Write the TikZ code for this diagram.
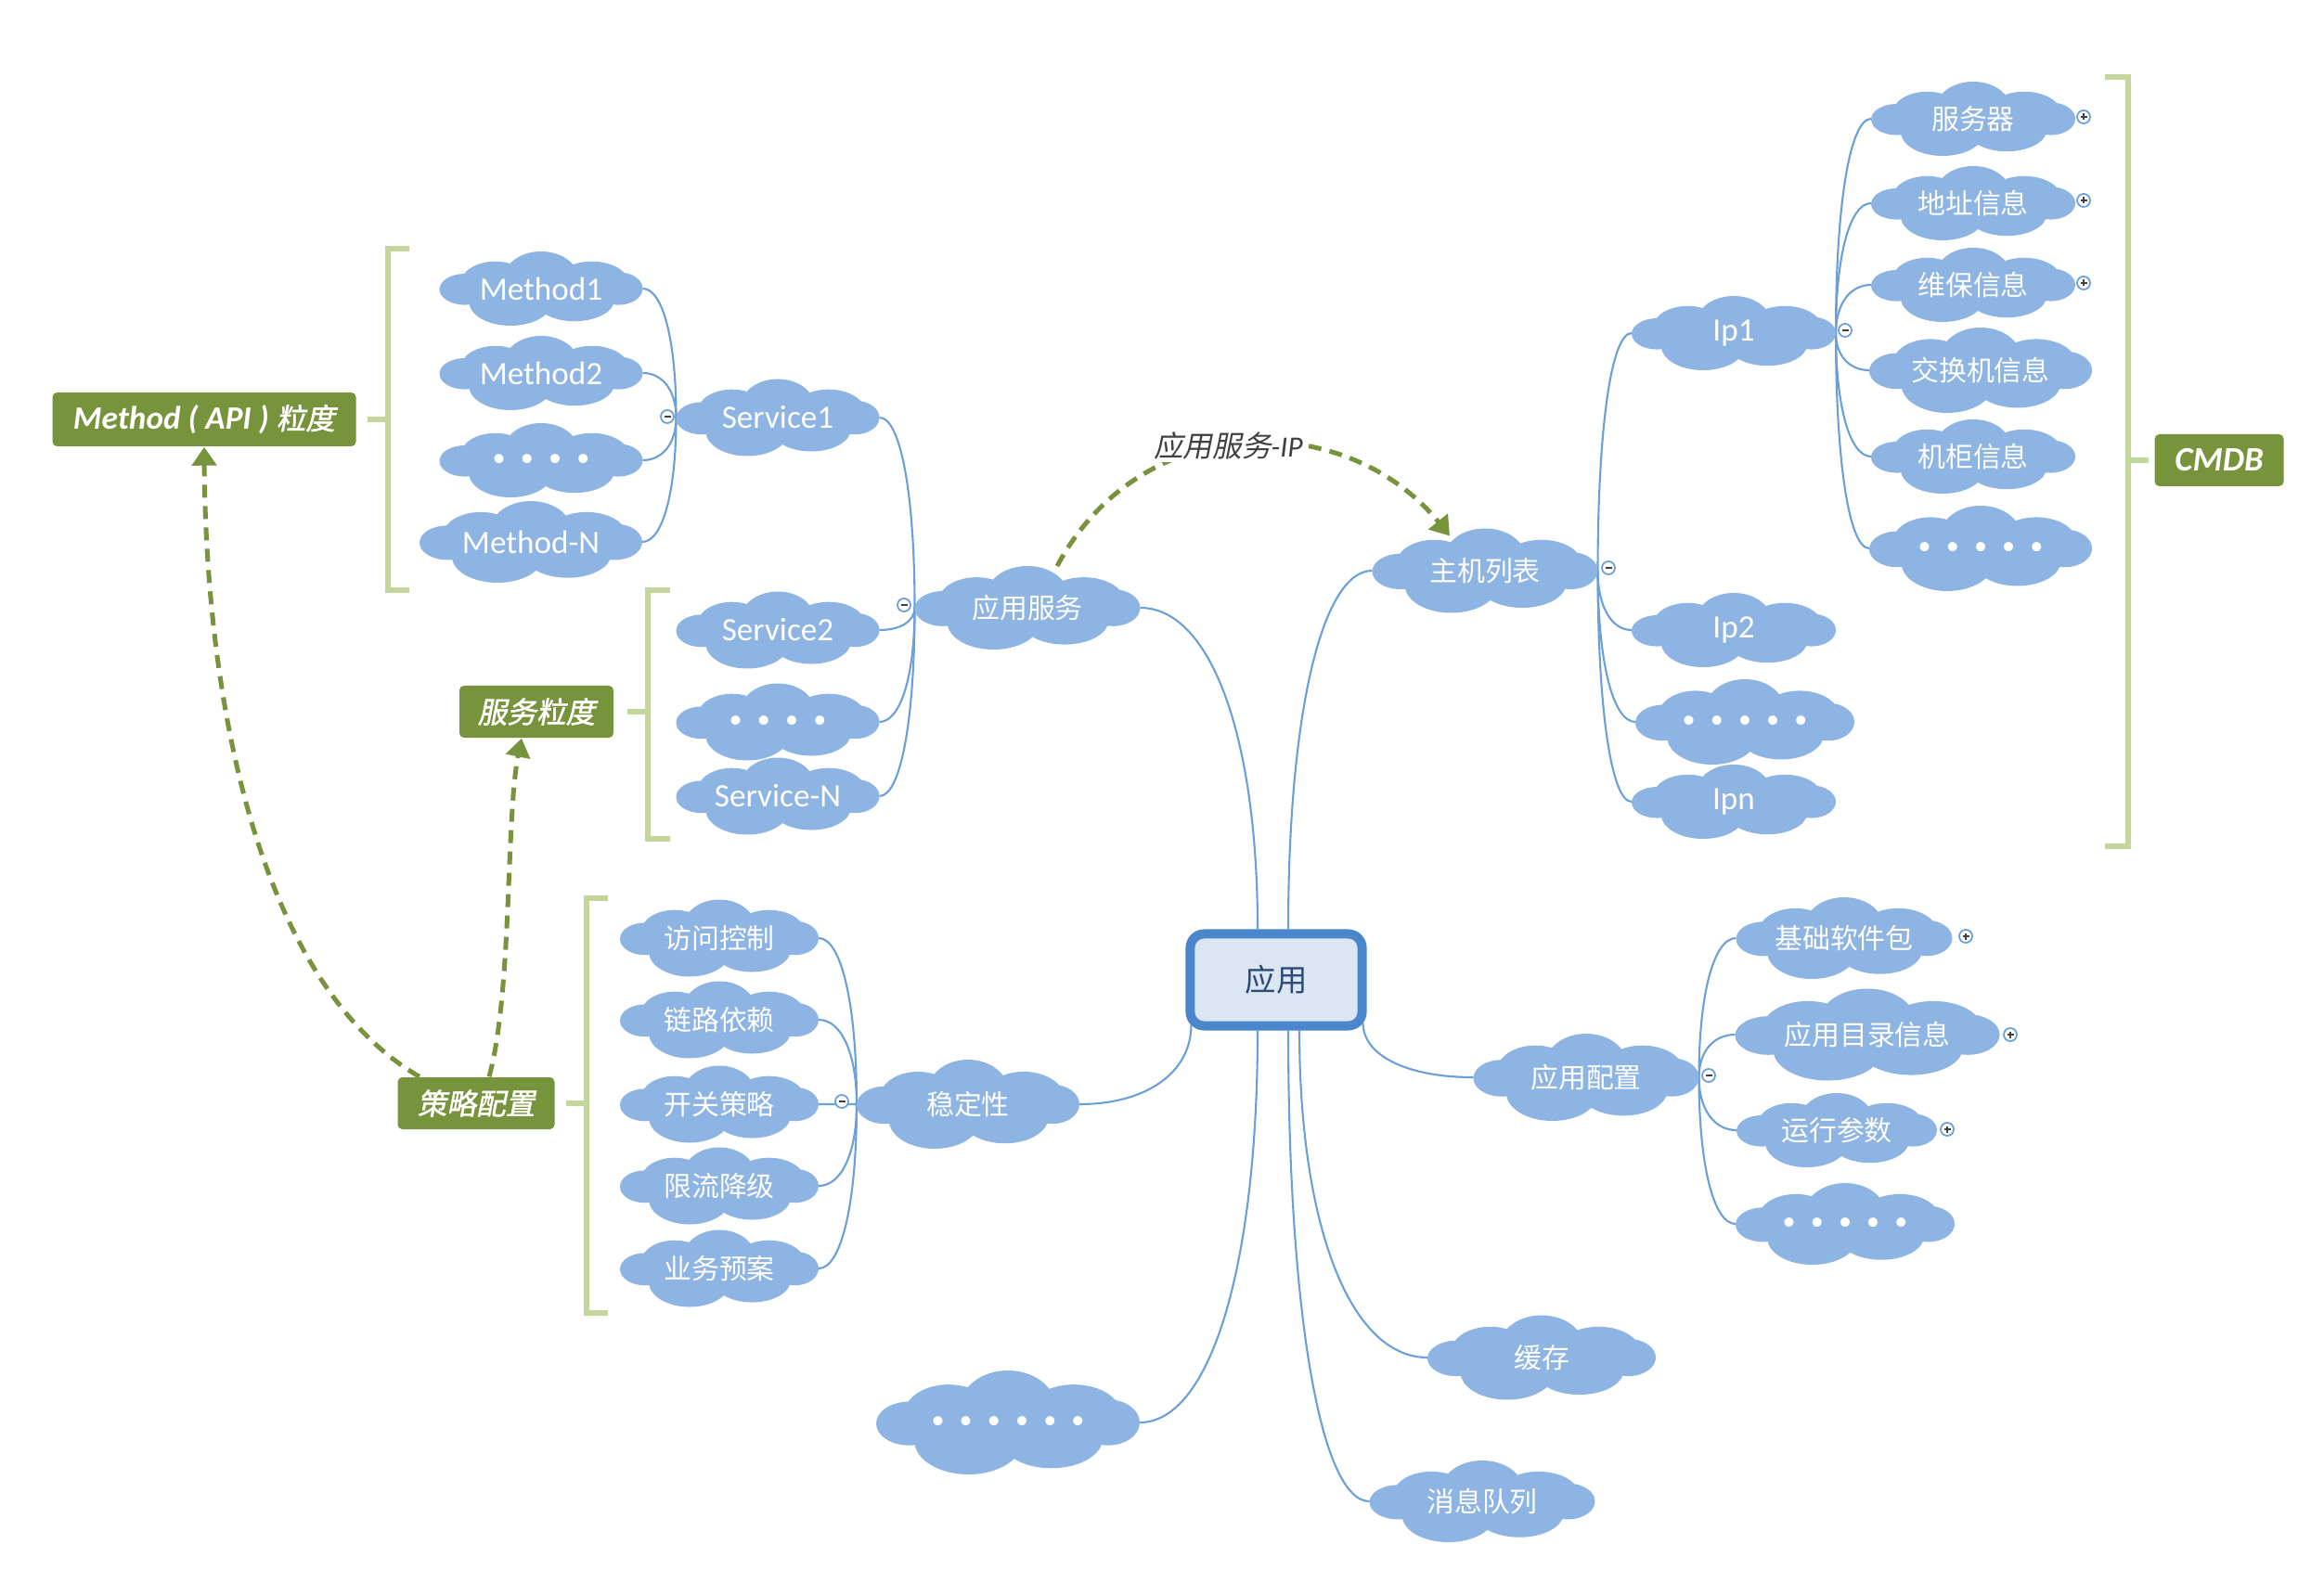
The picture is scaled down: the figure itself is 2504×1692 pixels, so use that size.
\documentclass[tikz,border=0pt]{standalone}
\usepackage{fontspec}
\setmainfont{Carlito}
\newfontfamily\cjk{Noto Sans CJK SC}
\newfontfamily\cjksl[FakeSlant=0.2]{Noto Sans CJK SC}
\newfontfamily\cjktag[FakeSlant=0.2,FakeBold=1.5]{Noto Sans CJK SC}
\usetikzlibrary{arrows.meta,calc}

\definecolor{cloudblue}{HTML}{8DB4E2}
\definecolor{linkblue}{HTML}{6A9FD8}
\definecolor{taggreen}{HTML}{77933C}
\definecolor{bracketgreen}{HTML}{C3D69B}
\definecolor{boxblue}{HTML}{4A86CC}
\definecolor{boxfill}{HTML}{DCE6F2}
\definecolor{boxtext}{HTML}{2C4A74}
\definecolor{labelgrey}{HTML}{404040}

\pgfdeclarelayer{background}
\pgfdeclarelayer{cloudlayer}
\pgfsetlayers{background,cloudlayer,main}

% curved mind-map branch: leaves the parent vertically, enters the child horizontally
\newcommand\mmlink[2]{\draw[conn] (#1) .. controls ($(#1)!0.6!(#1|-#2)$) and ($(#2)!0.6!(#2-|#1)$) .. (#2);}
% one spaced bullet of an ellipsis row
\newcommand\bul{\kern2.3pt•\kern2.3pt}
% cloud topic: [options]{name}{x}{y}{width}{height}{text}
% the cloud is a union of lobes given as u/v/rx/ry in half-size units (v upwards)
\newcommand\cloudnode[7][]{%
  \node[cl={#5}{#6}, #1] (#2) at (#3,#4) {#7};
  \begin{pgfonlayer}{cloudlayer}
    \fill[cloudblue] foreach \u/\v/\rx/\ry in {0/0/0.78/0.62, 0/0.30/0.36/0.70,
        -0.45/0.15/0.34/0.58, 0.50/0.15/0.36/0.58, -0.75/-0.02/0.25/0.42,
        0.76/0/0.24/0.44, -0.30/-0.35/0.41/0.65, 0.33/-0.30/0.39/0.58}
      {({#3+\u*#5/2},{#4-\v*#6/2}) ellipse [x radius={\rx*#5/2}, y radius={\ry*#6/2}]};
  \end{pgfonlayer}}

\begin{document}
\begin{tikzpicture}[x=0.01cm, y=-0.01cm,
  cl/.style 2 args={rectangle, draw=none, inner sep=0pt, outer sep=0pt,
    minimum width={#1*0.01cm}, minimum height={#2*0.01cm},
    text=white, font=\fontsize{8.5}{10}\selectfont\cjk},
  lat/.style={font=\fontsize{10}{12}\selectfont\rmfamily},
  dots/.style={font=\fontsize{8}{10}\selectfont\rmfamily},
  tag/.style 2 args={rectangle, rounded corners=0.05cm, fill=taggreen, text=white, inner sep=0pt,
    minimum width={#1*0.01cm}, minimum height={#2*0.01cm}},
  bracket/.style={draw=bracketgreen, line width=0.06cm},
  conn/.style={draw=linkblue, line width=0.6pt},
  dasharrow/.style={draw=taggreen, line width=0.05cm, dash pattern=on 0.14cm off 0.09cm,
    -{Triangle[length=0.2cm,width=0.26cm]}},
  collapse/.style={circle, draw=linkblue, fill=white, line width=0.5pt, minimum size=0.14cm, inner sep=0pt,
    path picture={\draw[labelgrey, line width=0.4pt]
      ([xshift=-0.035cm]path picture bounding box.center) -- ([xshift=0.035cm]path picture bounding box.center);}},
  expand/.style={circle, draw=linkblue, fill=white, line width=0.5pt, minimum size=0.14cm, inner sep=0pt,
    path picture={\draw[labelgrey, line width=0.6pt]
      ([xshift=-0.035cm]path picture bounding box.center) -- ([xshift=0.035cm]path picture bounding box.center)
      ([yshift=-0.035cm]path picture bounding box.center) -- ([yshift=0.035cm]path picture bounding box.center);}}
]
\useasboundingbox (0,0) rectangle (2504,1692);

% central topic
\node[rectangle, rounded corners=0.15cm, draw=boxblue, line width=0.1cm, fill=boxfill,
  minimum width=1.85cm, minimum height=0.99cm, text=boxtext,
  font=\fontsize{9.5}{11}\selectfont\cjk] (app) at (1375,1056) {应用};

% application services branch
\cloudnode{appsvc}{1107}{655}{243}{90}{应用服务}
\cloudnode[lat]{s1}{838}{450}{219}{83}{Service1}
\cloudnode[lat]{s2}{838}{679}{219}{83}{Service2}
\cloudnode[dots]{sdots}{838}{778}{219}{83}{\bul\bul\bul\bul}
\cloudnode[lat]{sN}{838}{858}{219}{83}{Service-N}
\cloudnode[lat]{m1}{583}{311}{219}{80}{Method1}
\cloudnode[lat]{m2}{583}{402}{219}{80}{Method2}
\cloudnode[dots]{mdots}{583}{496}{219}{80}{\bul\bul\bul\bul}
\cloudnode[lat]{mN}{572}{584}{240}{88}{Method-N}

% host list branch
\cloudnode{hosts}{1600}{615}{243}{91}{主机列表}
\cloudnode[lat]{ip1}{1868}{359}{220}{80}{Ip1}
\cloudnode[lat]{ip2}{1868}{679}{220}{80}{Ip2}
\cloudnode[dots]{ipdots}{1880}{778}{236}{92}{\bul\bul\bul\bul\bul}
\cloudnode[lat]{ipn}{1868}{864}{220}{80}{Ipn}
\cloudnode{srv}{2126}{128}{220}{80}{服务器}
\cloudnode{addr}{2126}{219}{220}{80}{地址信息}
\cloudnode{maint}{2126}{307}{220}{80}{维保信息}
\cloudnode{switch}{2134}{399}{240}{92}{交换机信息}
\cloudnode{rack}{2126}{492}{220}{80}{机柜信息}
\cloudnode[dots]{ip1dots}{2134}{591}{240}{92}{\bul\bul\bul\bul\bul}

% application config branch
\cloudnode{cfg}{1709}{1161}{243}{94}{应用配置}
\cloudnode{basepkg}{1987}{1011}{233}{88}{基础软件包}
\cloudnode{appdir}{2012}{1115}{285}{99}{应用目录信息}
\cloudnode{runparm}{1979}{1218}{216}{80}{运行参数}
\cloudnode[dots]{cfgdots}{1988}{1319}{236}{88}{\bul\bul\bul\bul\bul}

% lower branches
\cloudnode{cache}{1661}{1463}{246}{91}{缓存}
\cloudnode{mq}{1597}{1618}{243}{88}{消息队列}
\cloudnode[dots]{more}{1086}{1533}{284}{112}{\bul\bul\bul\bul\bul\bul}

% stability branch
\cloudnode{stab}{1043}{1190}{240}{96}{稳定性}
\cloudnode{acl}{775}{1011}{214}{83}{访问控制}
\cloudnode{chain}{775}{1099}{214}{83}{链路依赖}
\cloudnode{switchpol}{775}{1190}{214}{83}{开关策略}
\cloudnode{ratelimit}{775}{1278}{214}{83}{限流降级}
\cloudnode{plan}{775}{1367}{214}{83}{业务预案}

% summary tags
\node[tag={327}{58}] (mapi) at (220,452)
  {\fontsize{10}{12}\selectfont\bfseries\itshape Method ( API ) {\cjktag\mdseries\fontsize{9}{11}\selectfont 粒度}};
\node[tag={166}{56}] (svcg) at (578,767) {\cjktag\fontsize{9}{11}\selectfont 服务粒度};
\node[tag={169}{56}] (policy) at (513,1189) {\cjktag\fontsize{9}{11}\selectfont 策略配置};
\node[tag={139}{56}] (cmdb) at (2391,496) {\fontsize{10.5}{12}\selectfont\bfseries\itshape CMDB};

% attachment points on the central topic
\coordinate (appN1) at ($(app.north)+(-20,0)$);
\coordinate (appN2) at ($(app.north)+(13,0)$);
\coordinate (appS1) at ($(app.south)+(-20,0)$);
\coordinate (appS2) at ($(app.south)+(13,0)$);
\coordinate (appS3) at ($(app.south)+(25,0)$);
\coordinate (appSW) at ($(app.south west)+(6,-6)$);
\coordinate (appSE) at ($(app.south east)+(-4,-8)$);

\begin{pgfonlayer}{background}
  \mmlink{appN1}{appsvc.east}
  \mmlink{appN2}{hosts.west}
  \mmlink{appSW}{stab.east}
  \mmlink{appSE}{cfg.west}
  \mmlink{appS1}{more.east}
  \mmlink{appS2}{mq.west}
  \mmlink{appS3}{cache.west}

  \foreach \c in {s1,s2,sdots,sN} {\mmlink{appsvc.west}{\c.east}}
  \foreach \c in {m1,m2,mdots,mN} {\mmlink{s1.west}{\c.east}}
  \foreach \c in {ip1,ip2,ipdots,ipn} {\mmlink{hosts.east}{\c.west}}
  \foreach \c in {srv,addr,maint,switch,rack,ip1dots} {\mmlink{ip1.east}{\c.west}}
  \foreach \c in {basepkg,appdir,runparm,cfgdots} {\mmlink{cfg.east}{\c.west}}
  \foreach \c in {acl,chain,switchpol,ratelimit,plan} {\mmlink{stab.west}{\c.east}}
\end{pgfonlayer}

% fold markers
\node[collapse] (fs1) at (719,449) {};
\node[collapse] (fappsvc) at (974,652) {};
\node[collapse] (fstab) at (907,1187) {};
\node[collapse] (fhosts) at (1733,612) {};
\node[collapse] (fip1) at (1988,356) {};
\node[collapse] (fcfg) at (1841,1159) {};
\node[expand] (esrv) at (2245,126) {};
\node[expand] (eaddr) at (2245,216) {};
\node[expand] (emaint) at (2245,305) {};
\node[expand] (ebase) at (2118,1009) {};
\node[expand] (edir) at (2166,1115) {};
\node[expand] (erun) at (2098,1217) {};

% summary brackets
\draw[bracket] (441,268) -- (418,268) -- (418,636) -- (441,636);
\draw[bracket] ([xshift=0.12cm]mapi.east) -- (418,452);
\draw[bracket] (722,636) -- (698,636) -- (698,904) -- (722,904);
\draw[bracket] ([xshift=0.14cm]svcg.east) -- (698,767);
\draw[bracket] (655,968) -- (632,968) -- (632,1415) -- (655,1415);
\draw[bracket] ([xshift=0.12cm]policy.east) -- (632,1189);
\draw[bracket] (2268,83) -- (2293,83) -- (2293,912) -- (2268,912);
\draw[bracket] (2293,496) -- ([xshift=-0.06cm]cmdb.west);

% relationship arrows
\draw[dasharrow] ($(policy.north west)+(24,0)$) .. controls (280,1060) and (222,760) .. (mapi.south);
\draw[dasharrow] ($(policy.north)+(14,0)$) .. controls (552,1070) and (545,880) .. ($(svcg.south)+(-16,0)$);
\draw[dasharrow] ($(appsvc.north)+(32,0)$) .. controls (1230,440) and (1450,440) ..
  node[pos=0.46, fill=white, inner sep=1pt, text=labelgrey]
    {\cjksl\fontsize{9}{11}\selectfont 应用服务\rmfamily\itshape -IP}
  ($(hosts.north)+(-38,8)$);
\end{tikzpicture}
\end{document}
